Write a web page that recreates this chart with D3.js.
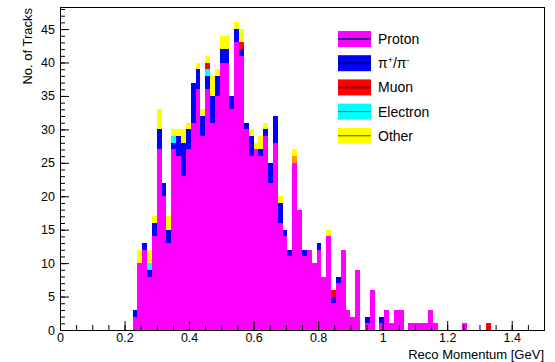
<!DOCTYPE html>
<html>
<head>
<meta charset="utf-8">
<script src="https://cdn.jsdelivr.net/npm/d3@7"></script>
<style>
  html, body { margin: 0; padding: 0; background: #fff; }
  svg text { font-family: "Liberation Sans", Arial, Helvetica, sans-serif; }
</style>
</head>
<body>
<svg id="chart" width="555" height="362"></svg>
<script>
// Histogram binning: 100 bins of 0.015 GeV from 0 to 1.5 GeV.
const binWidth = 0.015;
const firstBin = 15;            // first filled bin (0.225 GeV)

// Track counts per bin, starting at bin 15 (0.225 GeV) through bin 88.
const protonCounts = [
  2, 10, 12, 8, 14, 27, 20, 13, 27, 26,
  23, 27, 31, 36, 29, 36, 31, 35, 40, 40,
  33, 43, 41, 30, 26, 27, 26, 29, 22, 28,
  16, 14, 11, 25, 18, 11, 12, 10, 12, 8,
  14, 4, 7, 12, 3, 2, 9, 0, 1, 6,
  0, 1, 3, 1, 3, 3, 0, 1, 1, 1,
  1, 3, 1, 0, 0, 0, 0, 0, 1, 0,
  0, 0, 0, 0
];
const pionCounts = [
  1, 0, 1, 1, 2, 3, 2, 2, 1, 3,
  5, 3, 6, 3, 3, 2, 4, 3, 2, 2,
  2, 2, 1, 1, 3, 0, 1, 1, 3, 4,
  3, 1, 1, 0, 0, 1, 0, 0, 1, 0,
  0, 1, 1, 0, 0, 0, 0, 0, 1, 0,
  0, 1, 0, 0, 0, 0, 0, 0, 0, 0,
  0, 0, 0, 0, 0, 0, 0, 0, 0, 0,
  0, 0, 0, 0
];
const electronCounts = [
  0, 0, 0, 1, 0, 0, 0, 0, 1, 0,
  0, 0, 0, 0, 0, 1, 0, 0, 0, 0,
  0, 0, 0, 0, 0, 0, 0, 0, 0, 0,
  0, 0, 0, 0, 0, 0, 0, 0, 0, 0,
  0, 0, 0, 0, 0, 0, 0, 0, 0, 0,
  0, 0, 0, 0, 0, 0, 0, 0, 0, 0,
  0, 0, 0, 0, 0, 0, 0, 0, 0, 0,
  0, 0, 0, 0
];
const muonCounts = [
  0, 0, 0, 0, 0, 0, 0, 0, 0, 0,
  0, 0, 0, 0, 0, 1, 0, 0, 0, 0,
  0, 0, 1, 0, 0, 0, 0, 0, 0, 0,
  0, 0, 0, 0, 0, 0, 0, 0, 0, 0,
  0, 1, 0, 0, 0, 0, 0, 0, 0, 0,
  0, 0, 0, 0, 0, 0, 0, 0, 0, 0,
  0, 0, 0, 0, 0, 0, 0, 0, 0, 0,
  0, 0, 0, 1
];
const kaonLikeCounts = [
  0, 0, 0, 0, 0, 0, 0, 0, 0, 0,
  0, 0, 0, 0, 0, 0, 0, 0, 0, 0,
  0, 0, 0, 0, 0, 0, 0, 0, 0, 0,
  0, 0, 0, 1, 0, 0, 0, 0, 0, 0,
  0, 0, 0, 0, 0, 0, 0, 0, 0, 0,
  0, 0, 0, 0, 0, 0, 0, 0, 0, 0,
  0, 0, 0, 0, 0, 0, 0, 0, 0, 0,
  0, 0, 0, 0
];
const otherCounts = [
  0, 2, 0, 2, 1, 3, 0, 2, 1, 1,
  2, 1, 0, 1, 1, 1, 3, 1, 2, 2,
  0, 1, 2, 0, 1, 1, 2, 1, 0, 0,
  1, 0, 0, 1, 0, 0, 0, 0, 0, 0,
  1, 0, 0, 0, 0, 0, 0, 0, 0, 0,
  0, 0, 0, 0, 0, 0, 0, 0, 0, 0,
  0, 0, 0, 0, 0, 0, 0, 0, 0, 0,
  0, 0, 0, 0
];

// Stack order (bottom to top) and legend entries.
const seriesKeys   = ["proton", "pion", "electron", "muon", "kaonLike", "other"];
const seriesFill   = ["#ff00ff", "#0000ff", "#00ffff", "#ff0000", "#ff9900", "#ffff00"];
const legendKeys   = ["proton", "pion", "muon", "electron", "other"];
const legendLabels = ["Proton", "π+/π-", "Muon", "Electron", "Other"];
const legendLine   = ["#1e1e7a", "#00006e", "#8a0000", "#2c6c8c", "#4a4a10"];
const legendLineW  = [2, 2, 2, 1, 1];

const xTicksMajor = [0, 0.2, 0.4, 0.6, 0.8, 1, 1.2, 1.4];
const yTicksMajor = [0, 5, 10, 15, 20, 25, 30, 35, 40, 45];

const xTitle = "Reco Momentum [GeV]";
const yTitle = "No. of Tracks";

// ---------------------------------------------------------------
const rows = protonCounts.map((p, i) => ({
  lo: (firstBin + i) * binWidth,
  proton: p,
  pion: pionCounts[i],
  electron: electronCounts[i],
  muon: muonCounts[i],
  kaonLike: kaonLikeCounts[i],
  other: otherCounts[i]
}));

const svg = d3.select("#chart");
const W = 555, H = 362;
const plot = { left: 60, right: 544, top: 7, bottom: 330 };

svg.append("rect").attr("width", W).attr("height", H).attr("fill", "#fff");

const x = d3.scaleLinear().domain([0, 1.5]).range([plot.left, plot.right]);
const y = d3.scaleLinear().domain([0, 48.3]).range([plot.bottom, plot.top]);

const stacked = d3.stack().keys(seriesKeys)(rows);
const colour = d3.scaleOrdinal().domain(seriesKeys).range(seriesFill);

svg.append("g").selectAll("g")
  .data(stacked)
  .join("g")
  .attr("fill", d => colour(d.key))
  .selectAll("rect")
  .data(d => d.filter(s => s[1] > s[0]))
  .join("rect")
  .attr("x", s => x(s.data.lo))
  .attr("width", s => x(s.data.lo + binWidth) - x(s.data.lo))
  .attr("y", s => y(s[1]))
  .attr("height", s => y(s[0]) - y(s[1]))
  .attr("shape-rendering", "crispEdges");

// Axes: ticks point into the frame, ROOT style.
const axisFont = 12.5;
const xMinor = svg.append("g")
  .attr("transform", `translate(0,${plot.bottom})`)
  .call(d3.axisBottom(x).tickValues(d3.range(0, 1.5001, 0.05)).tickSize(-5).tickFormat(""));
const xMajor = svg.append("g")
  .attr("transform", `translate(0,${plot.bottom})`)
  .call(d3.axisBottom(x).tickValues(xTicksMajor).tickSize(-9).tickPadding(3)
    .tickFormat(d3.format("~g")));

const yMinor = svg.append("g")
  .attr("transform", `translate(${plot.left},0)`)
  .call(d3.axisLeft(y).tickValues(d3.range(0, 48.01, 1)).tickSize(-5).tickFormat(""));
const yMajor = svg.append("g")
  .attr("transform", `translate(${plot.left},0)`)
  .call(d3.axisLeft(y).tickValues(yTicksMajor).tickSize(-9).tickPadding(5));

[xMinor, xMajor, yMinor, yMajor].forEach(g => {
  g.select(".domain").remove();
  g.selectAll("line").attr("stroke", "#000").attr("stroke-width", 1);
  g.selectAll("text").attr("font-size", axisFont).attr("fill", "#000")
    .attr("font-family", "Liberation Sans, Arial, sans-serif");
});

// Frame
svg.append("rect")
  .attr("x", plot.left + 0.5).attr("y", plot.top + 0.5)
  .attr("width", plot.right - plot.left).attr("height", plot.bottom - plot.top)
  .attr("fill", "none").attr("stroke", "#000").attr("stroke-width", 1);

// Axis titles
svg.append("text")
  .attr("x", plot.right).attr("y", 359)
  .attr("text-anchor", "end").attr("font-size", 13)
  .text(xTitle);

svg.append("text")
  .attr("transform", `translate(32,${plot.top + 1}) rotate(-90)`)
  .attr("text-anchor", "end").attr("font-size", 13)
  .text(yTitle);

// Legend
const legend = svg.append("g").attr("transform", "translate(338,31)");
const rowStep = 24.2;
legendKeys.forEach((k, i) => {
  const g = legend.append("g").attr("transform", `translate(0,${i * rowStep})`);
  g.append("rect").attr("x", 0).attr("y", 0).attr("width", 33).attr("height", 16)
    .attr("fill", colour(k));
  g.append("line").attr("x1", 0).attr("x2", 33).attr("y1", 8).attr("y2", 8)
    .attr("stroke", legendLine[i]).attr("stroke-width", legendLineW[i]);
  const t = g.append("text").attr("x", 40).attr("y", 13).attr("font-size", 14);
  if (k === "pion") {
    t.append("tspan").text("π");
    t.append("tspan").text("+").attr("font-size", 9).attr("dy", -5);
    t.append("tspan").text("/π").attr("dy", 5);
    t.append("tspan").text("-").attr("font-size", 9).attr("dy", -5);
  } else {
    t.text(legendLabels[i]);
  }
});
</script>
</body>
</html>
